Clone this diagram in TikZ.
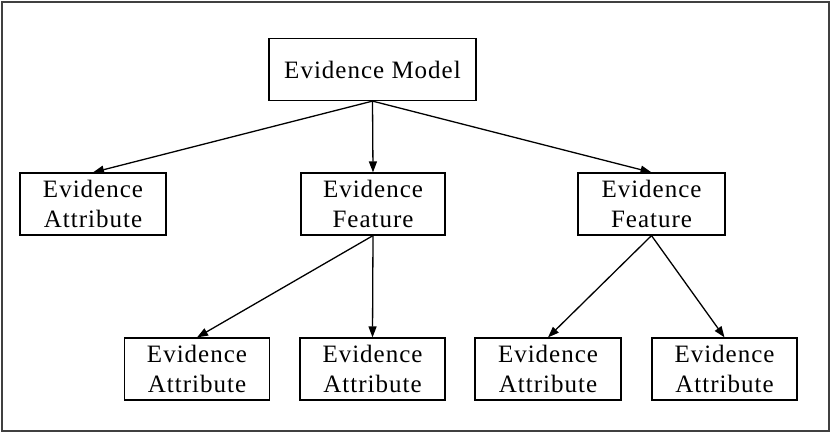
\documentclass[tikz,border=0pt]{standalone}
\usepackage{fontspec}
\setmainfont{Liberation Serif}[LetterSpace=4]
\usetikzlibrary{arrows.meta}
\begin{document}
\begin{tikzpicture}[x=1pt,y=-1pt,
  box/.style={draw, line width=1.2pt, inner sep=0pt, align=center,
    minimum height=62pt, font=\fontsize{25}{30}\selectfont},
  link/.style={line width=1.3pt, -{Triangle[length=11pt,width=8pt]}}]
  \useasboundingbox (0,0) rectangle (832,438);
  % outer frame
  \draw[line width=2pt, black!75] (1.5,2.5) rectangle (828.5,431);
  % boxes
  \node[box, minimum width=207pt] (model) at (372.5,69.5) {Evidence Model};
  \node[box, minimum width=146pt] (attrL) at (93,204) {Evidence\\Attribute};
  \node[box, minimum width=144pt] (featM) at (373,204) {Evidence\\Feature};
  \node[box, minimum width=147pt] (featR) at (651.5,204) {Evidence\\Feature};
  \node[box, minimum width=145pt] (a1) at (197,369) {Evidence\\Attribute};
  \node[box, minimum width=145pt] (a2) at (372.5,369) {Evidence\\Attribute};
  \node[box, minimum width=146pt] (a3) at (548,369) {Evidence\\Attribute};
  \node[box, minimum width=145pt] (a4) at (724.5,369) {Evidence\\Attribute};
  % connectors
  \draw[link] (model.south) -- (attrL.north);
  \draw[link] (model.south) -- (featM.north);
  \draw[link] (model.south) -- (featR.north);
  \draw[link] (featM.south) -- (a1.north);
  \draw[link] (featM.south) -- (a2.north);
  \draw[link] (featR.south) -- (a3.north);
  \draw[link] (featR.south) -- (a4.north);
\end{tikzpicture}
\end{document}
